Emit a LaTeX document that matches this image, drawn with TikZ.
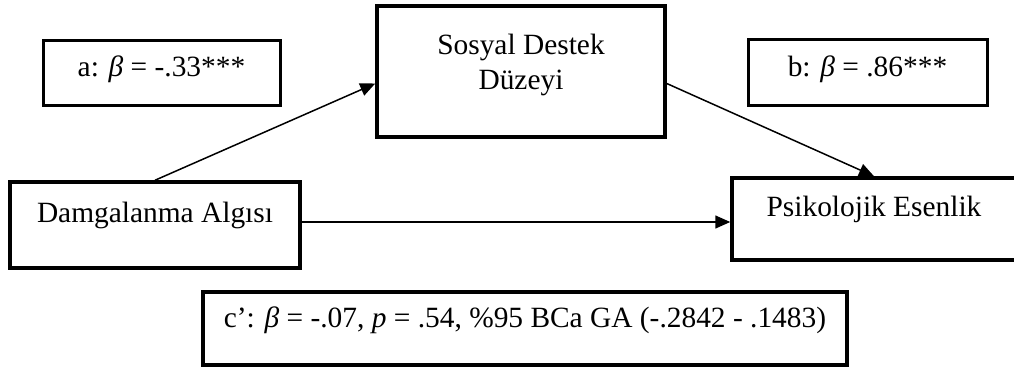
\documentclass[tikz,border=0pt]{standalone}
\usepackage{fontspec}
\setmainfont{Liberation Serif}
\usetikzlibrary{arrows.meta, positioning}

\begin{document}
\begin{tikzpicture}[x=1pt, y=-1pt,
  every node/.style={inner sep=0pt, font=\fontsize{29.4}{35}\selectfont, text height=20pt},
  varbox/.style={draw, line width=3.5pt, rectangle, align=center},
  coefbox/.style={varbox, line width=3pt},
  path/.style={line width=1.5pt, -{Triangle[length=15pt, width=13pt]}}]
\useasboundingbox (0,0) rectangle (1014,369);
% boxes
\node [varbox, minimum width=288pt, minimum height=131pt, text height=55pt, text depth=20pt] (sosyal) at (521,71.5) {Sosyal Destek\\Düzeyi};
\node [varbox, minimum width=290pt, minimum height=86pt, text depth=25pt] (damga) at (155,225) {Damgalanma Algısı};
\node [varbox, minimum width=284pt, minimum height=82pt, text depth=26pt] (esenlik) at (874,219) {Psikolojik Esenlik};
\node [coefbox, minimum width=237pt, minimum height=64pt, text depth=12pt] (patha) at (161.5,73) {a: \textit{β} = -.33***};
\node [coefbox, minimum width=239pt, minimum height=65pt, text depth=12pt] (pathb) at (867.5,72.5) {b: \textit{β} = .86***};
\node [varbox, minimum width=644pt, minimum height=73pt, text depth=23pt] (pathc) at (525,328.5) {c’: \textit{β} = -.07, \textit{p} = .54, \%95 BCa GA (-.2842 - .1483)};
% paths
\draw [path] (damga.north) -- ([yshift=-12pt]sosyal.west);
\draw [path] ([yshift=-12pt]sosyal.east) -- (esenlik.north);
\draw [path] ([yshift=3pt]damga.east) -- ([yshift=3pt]damga.east -| esenlik.west);
\end{tikzpicture}
\end{document}
